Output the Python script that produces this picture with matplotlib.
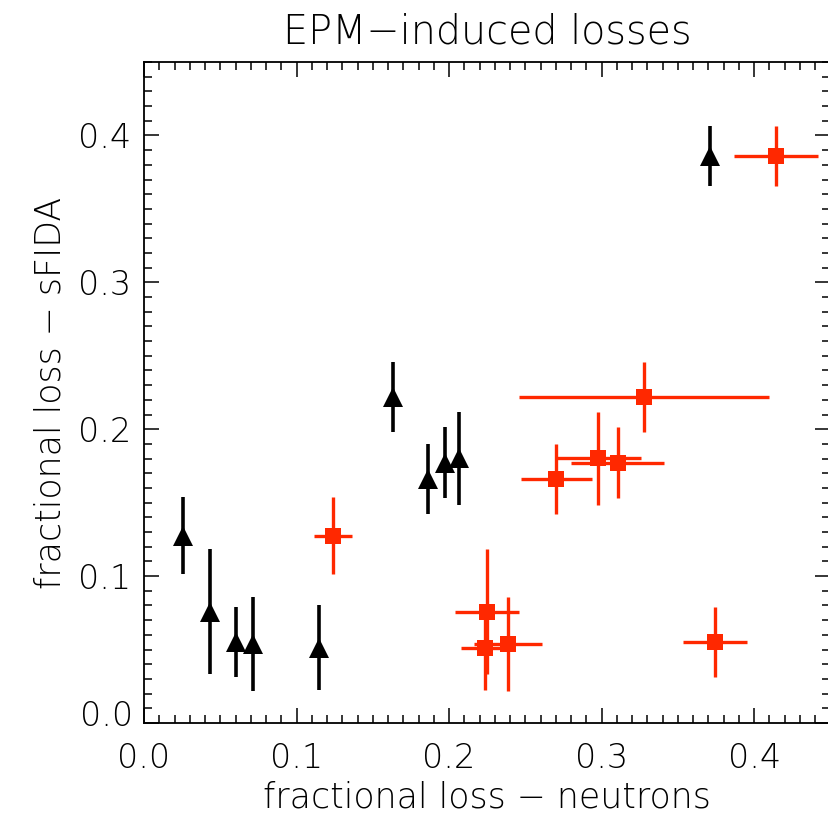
import numpy as np
import matplotlib.pyplot as plt
from matplotlib.ticker import MultipleLocator, FuncFormatter

# sFIDA losses, shared by both sets
y_sfida = [0.1276, 0.0759, 0.0553, 0.0538, 0.0512, 0.2220, 0.1662, 0.1773, 0.1802, 0.3860]
y_err = [0.0260, 0.0425, 0.0240, 0.0317, 0.0290, 0.0236, 0.0236, 0.0244, 0.0318, 0.0205]

# black triangles
x_black = [0.0256, 0.0433, 0.0601, 0.0713, 0.1148, 0.1630, 0.1860, 0.1974, 0.2066, 0.3710]

# red squares, with neutron error
x_red = [0.1241, 0.2247, 0.3744, 0.2385, 0.2236, 0.3279, 0.2702, 0.3104, 0.2979, 0.4144]
x_err = [0.0125, 0.0209, 0.0210, 0.0223, 0.0160, 0.0820, 0.0233, 0.0307, 0.0279, 0.0275]

red = '#ff2800'

plt.rcParams['font.family'] = ['DejaVu Sans']
plt.rcParams['font.weight'] = 'light'

fig = plt.figure(figsize=(8.29, 8.25), dpi=100)
ax = fig.add_axes([144/829, 102/825, 686.5/829, 661/825])

ax.errorbar(x_red, y_sfida, xerr=x_err, yerr=y_err, fmt='s', color=red,
            ms=12, elinewidth=2.4, capsize=0, mew=0)
ax.errorbar(x_black, y_sfida, yerr=y_err, fmt='^', color='black',
            ms=14, elinewidth=2.6, capsize=0, mew=0)

ax.set_xlim(0, 0.45)
ax.set_ylim(0, 0.45)
ax.xaxis.set_major_locator(MultipleLocator(0.1))
ax.xaxis.set_minor_locator(MultipleLocator(0.01))
ax.yaxis.set_major_locator(MultipleLocator(0.1))
ax.yaxis.set_minor_locator(MultipleLocator(0.01))
ax.xaxis.set_major_formatter(plt.FormatStrFormatter('%.1f'))
# 0.0 on the y axis is drawn a bit higher, as in the original
ax.yaxis.set_major_formatter(FuncFormatter(lambda v, p: '' if abs(v) < 1e-9 else '%.1f' % v))

ax.tick_params(which='both', direction='in', top=True, right=True, width=1.1,
               labelsize=24)
ax.tick_params(which='major', length=10.5)
ax.tick_params(which='minor', length=5.5)
ax.tick_params(axis='x', pad=14)
ax.tick_params(axis='y', pad=9)
for s in ax.spines.values():
    s.set_linewidth(1.3)

ax.annotate('0.0', xy=(0, 0), xycoords='data', xytext=(-7.5, 7), textcoords='offset points',
            ha='right', va='center_baseline', fontsize=24, fontweight='light')

ax.set_xlabel('fractional loss \u2212 neutrons', fontsize=25, fontweight='light', labelpad=4)
ax.set_ylabel('fractional loss \u2212 sFIDA', fontsize=25, fontweight='light', labelpad=8)
ax.set_title('EPM\u2212induced losses', fontsize=28.5, fontweight='light', pad=13)

fig.savefig('out.png', dpi=100)
